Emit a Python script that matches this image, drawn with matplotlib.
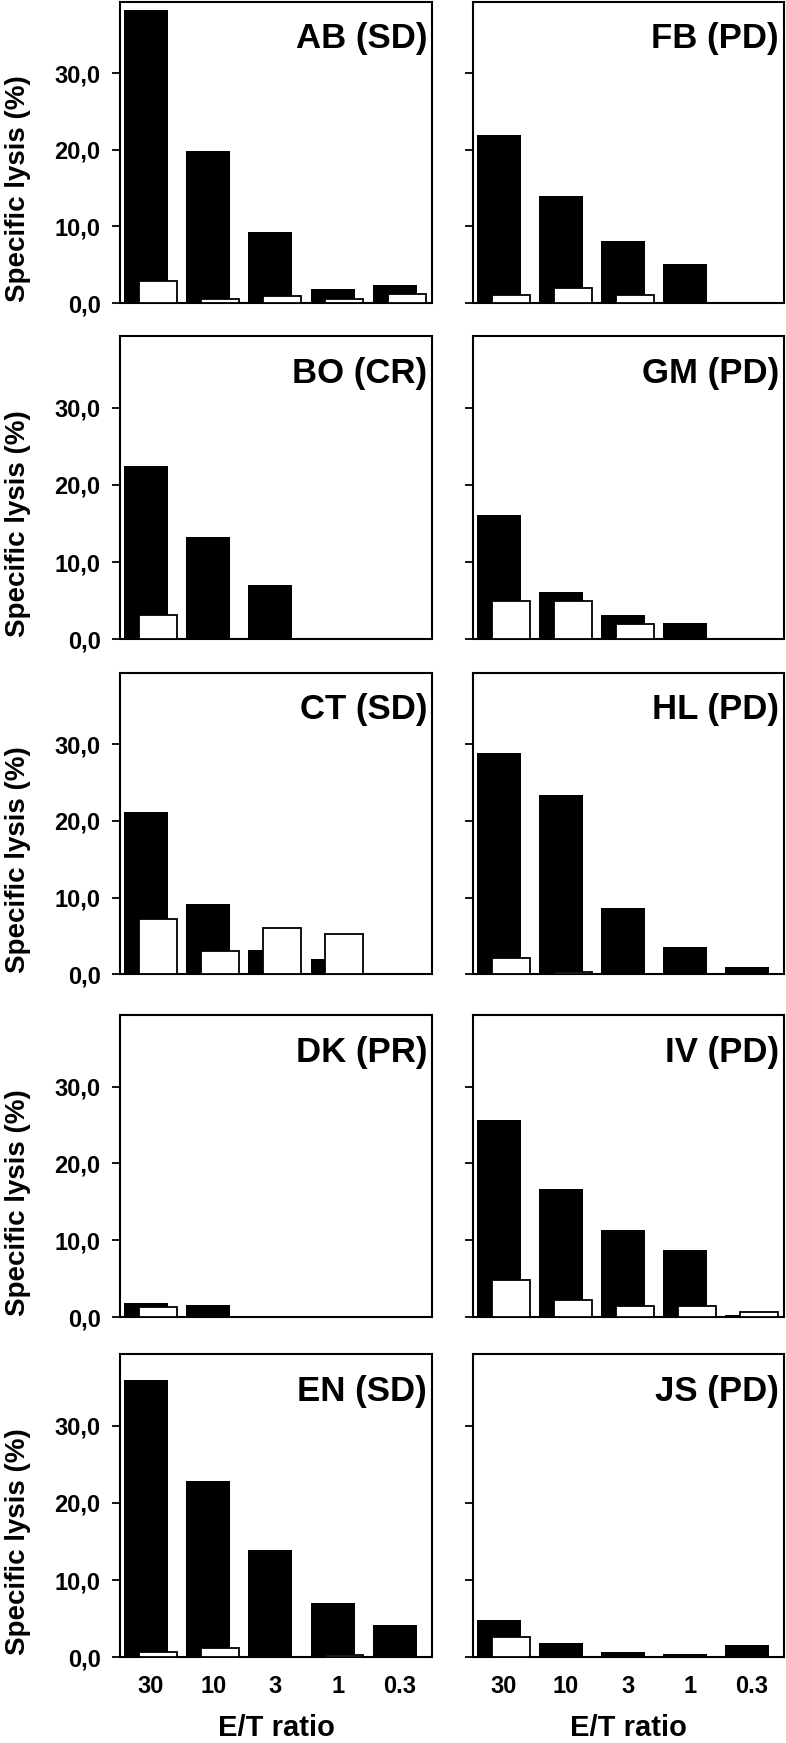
import numpy as np
import matplotlib
matplotlib.use('Agg')
import matplotlib.pyplot as plt

plt.rcParams['font.family'] = ['Liberation Sans', 'DejaVu Sans']
plt.rcParams['font.weight'] = 'bold'

# ---------------- data ----------------
et_ratios = ['30', '10', '3', '1', '0.3']
y_ticks = [0, 10, 20, 30]
y_tick_labels = ['0,0', '10,0', '20,0', '30,0']

panel_titles = ['AB (SD)', 'FB (PD)', 'BO (CR)', 'GM (PD)', 'CT (SD)',
                'HL (PD)', 'DK (PR)', 'IV (PD)', 'EN (SD)', 'JS (PD)']

# filled (black) bars and open (white) bars, specific lysis %
black_AB = [38.2, 19.8, 9.3, 1.8, 2.35]
white_AB = [2.9, 0.55, 0.9, 0.5, 1.2]
black_FB = [22.0, 14.0, 8.05, 5.15, None]
white_FB = [1.1, 2.0, 1.1, None, None]
black_BO = [22.5, 13.3, 7.0, None, None]
white_BO = [3.2, None, None, None, None]
black_GM = [16.1, 6.1, 3.2, 2.05, None]
white_GM = [4.9, 4.9, 2.0, None, None]
black_CT = [21.2, 9.2, 3.2, 2.0, None]
white_CT = [7.2, 3.1, 6.05, 5.2, None]
black_HL = [28.9, 23.3, 8.7, 3.6, 1.0]
white_HL = [2.1, 0.3, None, None, None]
black_DK = [1.85, 1.65, None, None, None]
white_DK = [1.3, None, None, None, None]
black_IV = [25.6, 16.7, 11.3, 8.7, 0.35]
white_IV = [4.9, 2.3, 1.5, 1.5, 0.65]
black_EN = [35.9, 22.8, 13.9, 7.0, 4.2]
white_EN = [0.7, 1.25, None, 0.3, None]
black_JS = [4.85, 1.8, 0.7, 0.4, 1.6]
white_JS = [2.6, None, None, None, None]

black_series = [black_AB, black_FB, black_BO, black_GM, black_CT,
                black_HL, black_DK, black_IV, black_EN, black_JS]
white_series = [white_AB, white_FB, white_BO, white_GM, white_CT,
                white_HL, white_DK, white_IV, white_EN, white_JS]

# ---------------- layout ----------------
W, H = 786, 1743
fig = plt.figure(figsize=(W / 100, H / 100), dpi=100)
fig.patch.set_facecolor('white')

col_x = [(120, 432), (473, 784)]
row_y = [(2, 303), (336, 639.3), (672.7, 974.3), (1015, 1317.3), (1354, 1657.3)]

BLACK_W = 0.707
WHITE_W = 0.61
WHITE_OFF = 0.19
LABEL_OFF = 0.08

for k, title in enumerate(panel_titles):
    r, c = divmod(k, 2)
    x0, x1 = col_x[c]
    y0, y1 = row_y[r]
    ax = fig.add_axes([x0 / W, 1 - y1 / H, (x1 - x0) / W, (y1 - y0) / H])

    pos = np.arange(len(et_ratios))
    for i, v in enumerate(black_series[k]):
        if v is not None:
            ax.bar(pos[i], v, width=BLACK_W, color='black',
                   edgecolor='black', linewidth=0, zorder=2)
    for i, v in enumerate(white_series[k]):
        if v is not None:
            ax.bar(pos[i] + WHITE_OFF, v, width=WHITE_W, color='white',
                   edgecolor='black', linewidth=1.3, zorder=3)

    ax.set_xlim(-0.418, 4.598)
    ax.set_ylim(0, 39.3)

    for s in ax.spines.values():
        s.set_linewidth(1.5)
        s.set_color('black')

    ax.set_yticks(y_ticks)
    if c == 0:
        ax.set_yticklabels(y_tick_labels)
        ax.set_ylabel('Specific lysis (%)', fontsize=20, fontweight='bold')
        ax.yaxis.set_label_coords(-0.285, 0.38)
    else:
        ax.set_yticklabels([''] * len(y_ticks))
    ax.tick_params(axis='y', direction='out', length=6, width=1.3,
                   pad=8, labelsize=17)

    ax.set_xticks(pos + LABEL_OFF)
    if r == len(row_y) - 1:
        ax.set_xticklabels(et_ratios)
        ax.set_xlabel('E/T ratio', fontsize=21, fontweight='bold', labelpad=11)
    else:
        ax.set_xticklabels([''] * len(et_ratios))
    ax.tick_params(axis='x', length=0, pad=13, labelsize=17)

    ax.text(0.984, 0.846, title, transform=ax.transAxes, ha='right',
            va='baseline', fontsize=25, fontweight='bold')

fig.savefig('out.png', dpi=100, facecolor='white')
